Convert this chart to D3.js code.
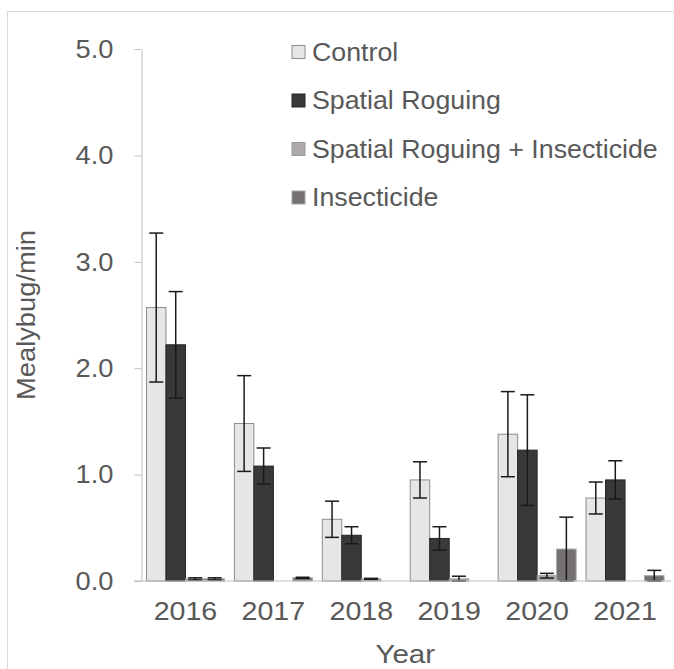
<!DOCTYPE html>
<html>
<head>
<meta charset="utf-8">
<script src="https://cdn.jsdelivr.net/npm/d3@7"></script>
<style>
  body { margin: 0; background: #fff; }
  svg text { font-family: 'Liberation Sans', Arial, sans-serif; }
</style>
</head>
<body>
<div class="chart"></div>
<script>
var years = ['2016', '2017', '2018', '2019', '2020', '2021'];
var seriesNames = ['Control', 'Spatial Roguing', 'Spatial Roguing + Insecticide', 'Insecticide'];
var yTicks = [0, 1, 2, 3, 4, 5];

// mean mealybugs per minute and error, one value per year
var control = [2.57, 1.48, 0.58, 0.95, 1.38, 0.78];
var controlErr = [0.70, 0.45, 0.17, 0.17, 0.40, 0.15];
var roguing = [2.22, 1.08, 0.43, 0.40, 1.23, 0.95];
var roguingErr = [0.50, 0.17, 0.08, 0.11, 0.52, 0.18];
var roguingIns = [0.02, 0, 0.02, 0.02, 0.05, 0];
var roguingInsErr = [0.01, 0, 0.005, 0.025, 0.022, 0];
var insecticide = [0.02, 0.03, 0, 0, 0.30, 0.05];
var insecticideErr = [0.01, 0.005, 0, 0, 0.30, 0.05];

var values = [control, roguing, roguingIns, insecticide];
var errors = [controlErr, roguingErr, roguingInsErr, insecticideErr];

var fills = ['#e7e6e6', '#3b3838', '#aeaaaa', '#767171'];
var strokes = ['#8c8c8c', '#262626', '#999999', '#a6a6a6'];

var width = 674, height = 669;
var margin = {left: 141.5, right: 669, top: 49, bottom: 581};

// widen text a little, the reference font renders wider than Liberation Sans
function stretch(sel, k) {
    sel.each(function() {
        var w = this.getComputedTextLength();
        d3.select(this)
            .attr('textLength', w * k)
            .attr('lengthAdjust', 'spacingAndGlyphs');
    });
}

var svg = d3.select('.chart')
    .append('svg')
    .attr('width', width)
    .attr('height', height);

// outer frame
svg.append('rect')
    .attr('x', 7.5).attr('y', 11.5)
    .attr('width', 800).attr('height', 800)
    .attr('fill', 'none')
    .attr('stroke', '#d9d9d9');

var x0 = d3.scaleBand()
    .domain(years)
    .range([margin.left, margin.right])
    .paddingInner(0.113)
    .paddingOuter(0.0565);

var x1 = d3.scaleBand()
    .domain(seriesNames)
    .range([0, x0.bandwidth()]);

var y = d3.scaleLinear()
    .domain([0, 5])
    .range([margin.bottom, margin.top]);

// y axis
var yAxis = svg.append('g')
    .attr('transform', 'translate(' + margin.left + ',0)')
    .call(d3.axisLeft(y)
        .tickValues(yTicks)
        .tickSize(7)
        .tickSizeOuter(0)
        .tickPadding(21)
        .tickFormat(d3.format('.1f')));
yAxis.selectAll('path, line').attr('stroke', '#bfbfbf');
yAxis.selectAll('text')
    .attr('fill', '#595959')
    .style('font-size', '26px')
    .call(stretch, 1.05);

// bars
var groups = svg.append('g').selectAll('g')
    .data(years)
    .enter()
    .append('g')
    .attr('transform', function(d) { return 'translate(' + x0(d) + ',0)' });

seriesNames.forEach(function(name, s) {
    groups.append('rect')
        .attr('x', x1(name))
        .attr('y', function(d, i) { return y(values[s][i]) })
        .attr('width', x1.bandwidth())
        .attr('height', function(d, i) { return y(0) - y(values[s][i]) })
        .attr('fill', fills[s])
        .attr('stroke', strokes[s])
        .attr('stroke-width', 1);
});

// error bars
function hi(s, i) { return values[s][i] + errors[s][i] }
function lo(s, i) { return Math.max(0, values[s][i] - errors[s][i]) }

seriesNames.forEach(function(name, s) {
    var cx = x1(name) + x1.bandwidth() / 2;
    var eb = groups.filter(function(d, i) { return errors[s][i] > 0 });
    eb.append('line')
        .attr('x1', cx).attr('x2', cx)
        .attr('y1', function(d) { return y(hi(s, years.indexOf(d))) })
        .attr('y2', function(d) { return y(lo(s, years.indexOf(d))) })
        .attr('stroke', '#1a1a1a')
        .attr('stroke-width', 1.5);
    [hi, lo].forEach(function(f) {
        eb.append('line')
            .attr('x1', cx - 7).attr('x2', cx + 7)
            .attr('y1', function(d) { return y(f(s, years.indexOf(d))) })
            .attr('y2', function(d) { return y(f(s, years.indexOf(d))) })
            .attr('stroke', '#1a1a1a')
            .attr('stroke-width', 1.5);
    });
});

// x axis
var xAxis = svg.append('g')
    .attr('transform', 'translate(0,' + margin.bottom + ')')
    .call(d3.axisBottom(x0).tickSize(0).tickPadding(21));
xAxis.select('.domain').remove();
xAxis.append('line')
    .attr('x1', margin.left - 7.5).attr('x2', margin.right + 2)
    .attr('stroke', '#bfbfbf');
xAxis.selectAll('text')
    .attr('fill', '#595959')
    .style('font-size', '26px')
    .call(stretch, 1.1);

// axis titles
svg.append('text')
    .attr('x', (margin.left + margin.right) / 2)
    .attr('y', 663)
    .attr('text-anchor', 'middle')
    .attr('fill', '#595959')
    .style('font-size', '25px')
    .text('Year')
    .call(stretch, 1.18);

svg.append('text')
    .attr('transform', 'translate(35,' + ((margin.top + margin.bottom) / 2) + ') rotate(-90)')
    .attr('text-anchor', 'middle')
    .attr('fill', '#595959')
    .style('font-size', '26px')
    .text('Mealybug/min')
    .call(stretch, 1.05);

// legend
var legend = svg.append('g').selectAll('g')
    .data(seriesNames)
    .enter()
    .append('g')
    .attr('transform', function(d, i) { return 'translate(292,' + (52 + i * 48.5) + ')' });

legend.append('rect')
    .attr('x', 0).attr('y', -6.5)
    .attr('width', 13).attr('height', 13)
    .attr('fill', function(d, i) { return fills[i] })
    .attr('stroke', function(d, i) { return strokes[i] });

legend.append('text')
    .attr('x', 20)
    .attr('dy', '0.35em')
    .attr('fill', '#595959')
    .style('font-size', '25px')
    .text(function(d) { return d })
    .call(stretch, 1.07);
</script>
</body>
</html>
